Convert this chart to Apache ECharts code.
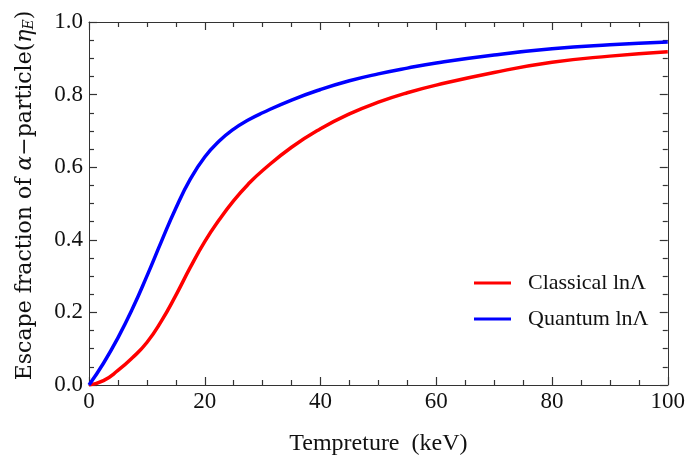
<!DOCTYPE html>
<html>
<head>
<meta charset="utf-8">
<script src="https://cdn.jsdelivr.net/npm/echarts@6/dist/echarts.min.js"></script>
<style>
  html, body { margin: 0; padding: 0; background: #fff; }
  #chart { width: 688px; height: 463px; }
</style>
</head>
<body>
<div id="chart"></div>
<script>
// temperature (keV) and escape fraction
var temps = [0, 2.5, 5, 7.5, 10, 12.5, 15, 17.5, 20, 22.5, 25, 27.5, 30, 35, 40, 45, 50, 55, 60, 70, 80, 90, 100];
var classical = [0, 0.012, 0.04, 0.075, 0.117, 0.176, 0.247, 0.324, 0.395, 0.455, 0.508, 0.553, 0.591, 0.655, 0.706, 0.747, 0.779, 0.805, 0.826, 0.861, 0.889, 0.906, 0.918];
var quantum = [0, 0.06, 0.13, 0.21, 0.30, 0.395, 0.487, 0.567, 0.628, 0.672, 0.705, 0.73, 0.75, 0.785, 0.814, 0.838, 0.857, 0.873, 0.887, 0.909, 0.926, 0.937, 0.945];
var names = ['Classical lnΛ', 'Quantum lnΛ'];

function pairs(ys) {
    return temps.map(function (t, i) { return [t, ys[i]]; });
}

var font = '"Liberation Serif", "DejaVu Serif", serif';
var nameFont = '"DejaVu Serif", "Liberation Serif", serif';
var frameColor = '#333';

var myChart = echarts.init(document.getElementById('chart'));

// frame: every side is an axis with inward ticks
function axis(kind, pos, onZero, extra) {
    var a = {
        type: 'value',
        position: pos,
        axisLine: { show: true, onZero: onZero, lineStyle: { color: frameColor, width: 1 } },
        axisTick: { show: true, inside: true, length: 8, lineStyle: { color: frameColor, width: 1.2 } },
        minorTick: { show: true, splitNumber: 4, length: 5, lineStyle: { color: frameColor, width: 1.2 } },
        splitLine: { show: false },
        minorSplitLine: { show: false }
    };
    if (kind === 'x') { a.min = 0; a.max = 100; a.interval = 20; }
    else { a.min = 0; a.max = 1; a.interval = 0.2; }
    return Object.assign(a, extra);
}

var option = {
    animation: false,
    backgroundColor: '#fff',
    grid: { left: 89, right: 20, top: 22, bottom: 78 },
    legend: {
        orient: 'vertical',
        left: 469, top: 267,
        itemWidth: 37, itemHeight: 3, itemGap: 14,
        icon: 'rect',
        textStyle: { fontFamily: font, fontSize: 22, color: '#111', padding: [0, 0, 0, 12] },
        data: names
    },
    xAxis: [
        axis('x', 'bottom', true, {
            name: 'Tempreture  (keV)',
            nameLocation: 'middle', nameGap: 47,
            nameTextStyle: { fontFamily: font, fontSize: 24, color: '#111' },
            axisLabel: { fontFamily: font, fontSize: 23, color: '#111', margin: 5,
                formatter: function (v) { return String(v); } }
        }),
        axis('x', 'top', false, { axisLabel: { show: false } })
    ],
    yAxis: [
        axis('y', 'left', true, {
            name: '{n|Escape fraction of }{i|α}{n|−particle(}{i|η}{s|E}{n|)}',
            nameLocation: 'middle', nameGap: 53, nameRotate: 90,
            nameTextStyle: {
                fontFamily: nameFont, fontSize: 22, color: '#111', padding: [0, 0, 0, 16],
                rich: {
                    n: { fontFamily: nameFont, fontSize: 22, color: '#111' },
                    i: { fontFamily: nameFont, fontSize: 22, fontStyle: 'italic', color: '#111' },
                    s: { fontFamily: nameFont, fontSize: 14, fontStyle: 'italic', color: '#111', padding: [8, 0, 0, 0] }
                }
            },
            axisLabel: { fontFamily: font, fontSize: 23, color: '#111', margin: 6,
                formatter: function (v) { return v.toFixed(1); } }
        }),
        axis('y', 'right', false, { axisLabel: { show: false } })
    ],
    series: [
        {
            name: names[0], type: 'line', smooth: 0.5, showSymbol: false,
            lineStyle: { color: '#ff0000', width: 3.5 }, itemStyle: { color: '#ff0000' },
            data: pairs(classical)
        },
        {
            name: names[1], type: 'line', smooth: 0.5, showSymbol: false,
            lineStyle: { color: '#0000ff', width: 3.5 }, itemStyle: { color: '#0000ff' },
            data: pairs(quantum)
        }
    ]
};

myChart.setOption(option);
</script>
</body>
</html>
